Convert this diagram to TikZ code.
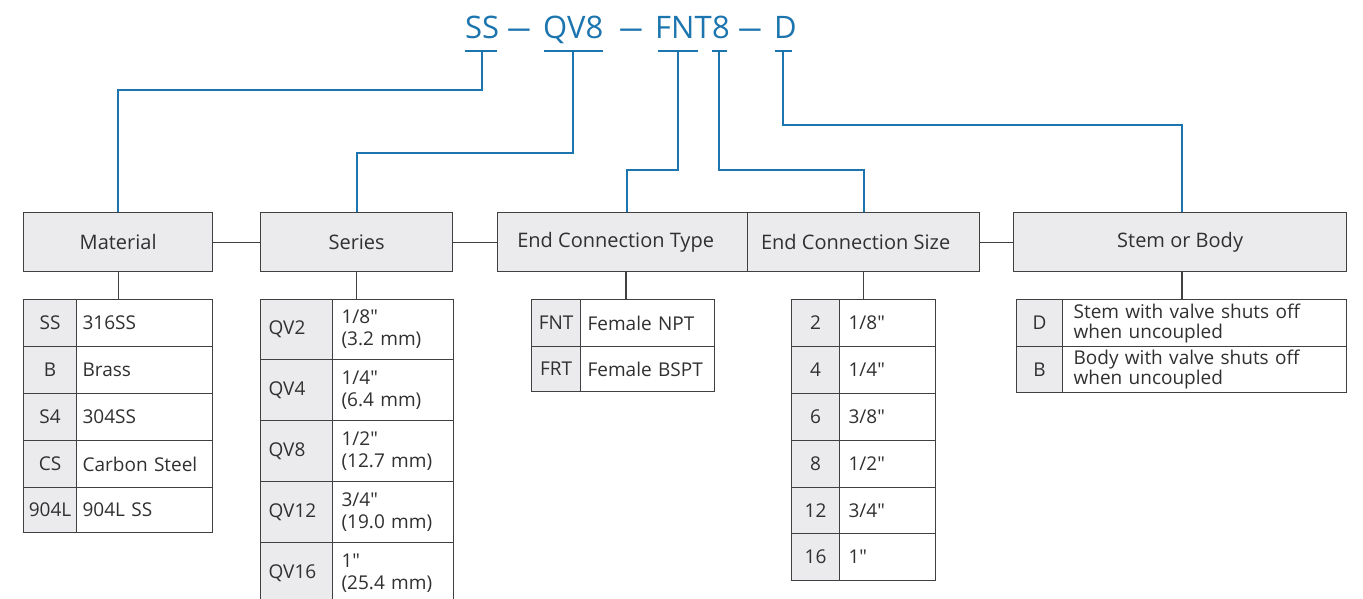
\documentclass[tikz,border=0pt]{standalone}
\usepackage{fontspec}
\usepackage{graphicx}
\setmainfont{Open Sans}[Ligatures=TeXOff]
\definecolor{codeblue}{HTML}{1C75AE}
\definecolor{bd}{HTML}{404040}
\definecolor{hd}{HTML}{EBEBEE}
\definecolor{txt}{HTML}{303030}
\newcommand\tfont{\fontsize{19}{22}\selectfont}
\newcommand\hfont{\fontsize{20}{22}\selectfont}
\begin{document}
\begin{tikzpicture}[x=1pt,y=-1pt,
  hdr/.style={draw=bd, fill=hd, line width=1.3pt, anchor=north west, inner sep=0pt, minimum height=59pt, text=txt, font=\hfont},
  codec/.style={draw=bd, fill=hd, line width=1.2pt, anchor=north west, inner sep=0pt, text=txt, font=\tfont},
  descc/.style={draw=bd, fill=white, line width=1.2pt, anchor=north west, inner ysep=0pt, align=left, text=txt, font=\tfont},
  conn/.style={draw=bd, line width=1.2pt},
  bl/.style={draw=codeblue, line width=2pt},
  codetxt/.style={text=codeblue, font=\fontsize{31}{34}\selectfont, inner sep=0pt, anchor=base west},
  dashtxt/.style={text=codeblue, font=\fontsize{31}{34}\selectfont, inner sep=0pt, anchor=base}
]
\useasboundingbox (0,0) rectangle (1363,598);
\clip (0,0) rectangle (1363,598);

% ---------- top code ----------
\node[codetxt] (cSS) at (465,38) {SS};
\node[dashtxt] (d1) at (519,38) {\scalebox{0.75}[1]{—}};
\node[codetxt] (cQV) at (543,38) {QV8};
\node[dashtxt] (d2) at (631,38) {\scalebox{0.75}[1]{—}};
\node[codetxt] (cFNT) at (655,38) {FNT};
\node[codetxt] (c8) at (cFNT.base east) {8};
\node[dashtxt] (d3) at (750,38) {\scalebox{0.75}[1]{—}};
\node[codetxt] (cD) at (774,38) {D};

\coordinate (uSSa) at (465,51);  \coordinate (uSSb) at (497,51);  \coordinate (uSS) at (482,51);
\coordinate (uQVa) at (544,51);  \coordinate (uQVb) at (603,51);  \coordinate (uQV) at (573,51);
\coordinate (uFa) at (658,51);   \coordinate (uFb) at (698,51);   \coordinate (uF) at (678,51);
\coordinate (u8a) at (712,51);   \coordinate (u8b) at (727,51);   \coordinate (u8) at (719,51);
\coordinate (uDa) at (775,51);   \coordinate (uDb) at (792,51);   \coordinate (uD) at (783,51);

% ---------- headers ----------
\node[hdr, minimum width=189pt] (mat) at (23,212) {Material};
\node[hdr, minimum width=192pt] (ser) at (260,212) {Series};
\node[hdr, minimum width=250pt] (ect) at (497,212) {End Connection Type\hspace*{14pt}};
\node[hdr, minimum width=232pt] (ecs) at (747,212) {End Connection Size\hspace*{16pt}};
\node[hdr, minimum width=333pt] (stem) at (1013,212) {Stem or Body};

\coordinate (ectIn) at (627,212);
\coordinate (ectOut) at (626,271);
\coordinate (stemIn) at (1182,212);
\coordinate (stemOut) at (1182,271);

% ---------- blue connectors ----------
\draw[bl] (uSSa) -- (uSSb);
\draw[bl] (uQVa) -- (uQVb);
\draw[bl] (uFa) -- (uFb);
\draw[bl] (u8a) -- (u8b);
\draw[bl] (uDa) -- (uDb);
\draw[bl] (uSS) -- ++(0,39) -| (mat.north);
\draw[bl] (uQV) -- ++(0,102) -| (ser.north);
\draw[bl] (uF) -- ++(0,119) -| (ectIn);
\draw[bl] (u8) -- ++(0,119) -| (ecs.north);
\draw[bl] (uD) -- ++(0,74) -| (stemIn);

% ---------- header links ----------
\draw[conn] (mat.east) -- (ser.west);
\draw[conn] (ser.east) -- (ect.west);
\draw[conn] (ecs.east) -- (stem.west);

% ---------- Material table ----------
\node[codec, minimum width=53pt, minimum height=47pt] (m1) at (23,299) {SS};
\node[descc, text width=124pt, inner xsep=6pt, minimum height=47pt] (m1d) at (76,299) {316SS};
\node[codec, minimum width=53pt, minimum height=47pt] (m2) at (23,346) {B};
\node[descc, text width=124pt, inner xsep=6pt, minimum height=47pt] (m2d) at (76,346) {Brass};
\node[codec, minimum width=53pt, minimum height=47pt] (m3) at (23,393) {S4};
\node[descc, text width=124pt, inner xsep=6pt, minimum height=47pt] (m3d) at (76,393) {304SS};
\node[codec, minimum width=53pt, minimum height=47pt] (m4) at (23,440) {CS};
\node[descc, text width=124pt, inner xsep=6pt, minimum height=47pt] (m4d) at (76,440) {Carbon Steel};
\node[codec, minimum width=53pt, minimum height=45pt] (m5) at (23,487) {904L};
\node[descc, text width=124pt, inner xsep=6pt, minimum height=45pt] (m5d) at (76,487) {904L SS};

% ---------- Series table ----------
\node[codec, text width=56pt, inner xsep=8pt, align=left, minimum height=60pt] (s1) at (260,299) {QV2};
\node[descc, text width=103pt, inner xsep=9pt, minimum height=60pt] (s1d) at (332,299) {1/8"\\(3.2 mm)};
\node[codec, text width=56pt, inner xsep=8pt, align=left, minimum height=61pt] (s2) at (260,359) {QV4};
\node[descc, text width=103pt, inner xsep=9pt, minimum height=61pt] (s2d) at (332,359) {1/4"\\(6.4 mm)};
\node[codec, text width=56pt, inner xsep=8pt, align=left, minimum height=61pt] (s3) at (260,420) {QV8};
\node[descc, text width=103pt, inner xsep=9pt, minimum height=61pt] (s3d) at (332,420) {1/2"\\(12.7 mm)};
\node[codec, text width=56pt, inner xsep=8pt, align=left, minimum height=61pt] (s4) at (260,481) {QV12};
\node[descc, text width=103pt, inner xsep=9pt, minimum height=61pt] (s4d) at (332,481) {3/4"\\(19.0 mm)};
\node[codec, text width=56pt, inner xsep=8pt, align=left, minimum height=61pt] (s5) at (260,542) {QV16};
\node[descc, text width=103pt, inner xsep=9pt, minimum height=61pt] (s5d) at (332,542) {1"\\(25.4 mm)};

% ---------- End connection type table ----------
\node[codec, minimum width=49pt, minimum height=47pt] (t1) at (531,299) {FNT};
\node[descc, text width=120pt, inner xsep=7pt, minimum height=47pt] (t1d) at (580,299) {Female NPT};
\node[codec, minimum width=49pt, minimum height=45pt] (t2) at (531,346) {FRT};
\node[descc, text width=120pt, inner xsep=7pt, minimum height=45pt] (t2d) at (580,346) {Female BSPT};

% ---------- End connection size table ----------
\node[codec, minimum width=48pt, minimum height=47pt] (z1) at (791,299) {2};
\node[descc, text width=78pt, inner xsep=9pt, minimum height=47pt] (z1d) at (839,299) {1/8"};
\node[codec, minimum width=48pt, minimum height=47pt] (z2) at (791,346) {4};
\node[descc, text width=78pt, inner xsep=9pt, minimum height=47pt] (z2d) at (839,346) {1/4"};
\node[codec, minimum width=48pt, minimum height=47pt] (z3) at (791,393) {6};
\node[descc, text width=78pt, inner xsep=9pt, minimum height=47pt] (z3d) at (839,393) {3/8"};
\node[codec, minimum width=48pt, minimum height=47pt] (z4) at (791,440) {8};
\node[descc, text width=78pt, inner xsep=9pt, minimum height=47pt] (z4d) at (839,440) {1/2"};
\node[codec, minimum width=48pt, minimum height=46pt] (z5) at (791,487) {12};
\node[descc, text width=78pt, inner xsep=9pt, minimum height=46pt] (z5d) at (839,487) {3/4"};
\node[codec, minimum width=48pt, minimum height=47pt] (z6) at (791,533) {16};
\node[descc, text width=78pt, inner xsep=9pt, minimum height=47pt] (z6d) at (839,533) {1"};

% ---------- Stem or body table ----------
\node[codec, minimum width=46pt, minimum height=47pt] (b1) at (1016,299) {D};
\node[descc, text width=262pt, inner xsep=11pt, minimum height=47pt, font=\fontsize{19}{20}\selectfont] (b1d) at (1062,299) {Stem with valve shuts off\\when uncoupled};
\node[codec, minimum width=46pt, minimum height=46pt] (b2) at (1016,346) {B};
\node[descc, text width=262pt, inner xsep=11pt, minimum height=46pt, font=\fontsize{19}{20}\selectfont] (b2d) at (1062,346) {Body with valve shuts off\\when uncoupled};

% ---------- header to table connectors ----------
\draw[conn] (mat.south) -- (mat.south |- m1.north);
\draw[conn] (ser.south) -- (ser.south |- s1.north);
\draw[conn] (ectOut) -- (ectOut |- t1.north);
\draw[conn] (ecs.south) -- (ecs.south |- z1.north);
\draw[conn] (stemOut) -- (stemOut |- b1.north);
\end{tikzpicture}
\end{document}
